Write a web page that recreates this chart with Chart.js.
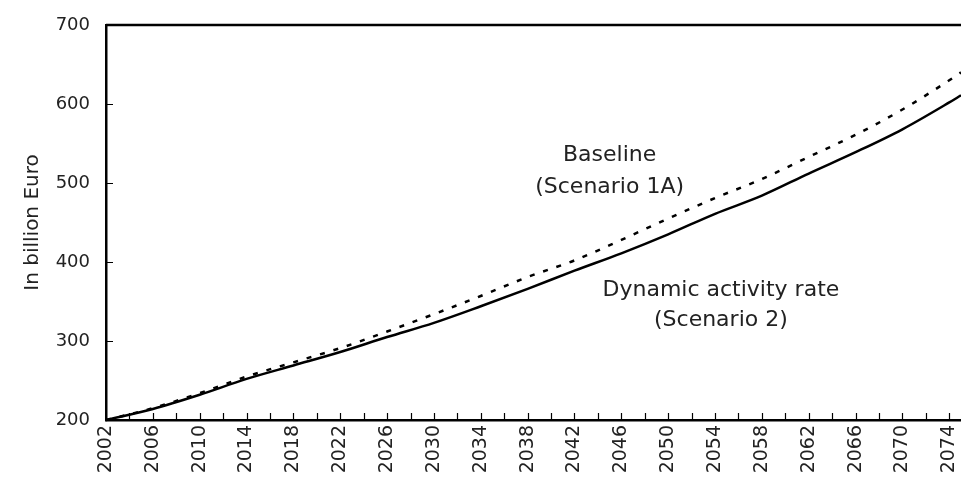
<!DOCTYPE html>
<html>
<head>
<meta charset="utf-8">
<script src="https://cdn.jsdelivr.net/npm/chart.js@4.4.1/dist/chart.umd.min.js"></script>
<style>
    html, body { margin: 0; padding: 0; background: #fff; }
    #wrap { width: 961px; height: 484px; }
</style>
</head>
<body>
<div id="wrap"><canvas id="gdpChart" width="961" height="484"></canvas></div>
<script>
// years (every 4 years plus the last one)
const years = [2002, 2006, 2010, 2014, 2018, 2022, 2026, 2030, 2034, 2038, 2042, 2046, 2050, 2054, 2058, 2062, 2066, 2070, 2074, 2075];
// Baseline (Scenario 1A), dotted
const baseline = [200, 215, 234, 255, 273, 291, 312, 334, 357, 381, 402, 428, 455, 481, 505, 533, 561, 593, 630, 640];
// Dynamic activity rate (Scenario 2), solid
const dynamicRate = [200, 214, 232, 252, 269, 286, 305, 323, 344, 366, 389, 411, 435, 461, 484, 512, 539, 568, 602, 611];
const yTicks = [200, 300, 400, 500, 600, 700];

const FONT = '"DejaVu Sans", sans-serif';
const TEXT = '#222';

function toPoints(vals) {
    return years.map((y, i) => ({ x: y, y: vals[i] }));
}

// text labels placed in data space
const labels = [
    { text: 'Baseline', x: 2045.0, y: 535 },
    { text: '(Scenario 1A)', x: 2045.0, y: 495 },
    { text: 'Dynamic activity rate', x: 2054.5, y: 364 },
    { text: '(Scenario 2)', x: 2054.5, y: 326 }
];

// inward tick marks, top frame line and curve labels
const framePlugin = {
    id: 'frame',
    afterDraw(chart) {
        const ctx = chart.ctx;
        const xs = chart.scales.x, ys = chart.scales.y;
        const area = chart.chartArea;
        ctx.save();
        ctx.strokeStyle = '#000';
        ctx.lineWidth = 1.2;
        ctx.beginPath();
        for (let v = 2004; v <= 2074; v += 2) {
            const px = Math.round(xs.getPixelForValue(v)) + 0.5;
            ctx.moveTo(px, area.bottom);
            ctx.lineTo(px, area.bottom - 7);
        }
        yTicks.slice(1, -1).forEach(v => {
            const py = Math.round(ys.getPixelForValue(v)) + 0.5;
            ctx.moveTo(area.left, py);
            ctx.lineTo(area.left + 7, py);
        });
        ctx.stroke();
        // top frame
        ctx.lineWidth = 2.5;
        ctx.beginPath();
        ctx.moveTo(area.left, area.top);
        ctx.lineTo(area.right, area.top);
        ctx.stroke();
        // curve labels
        ctx.fillStyle = TEXT;
        ctx.font = '22px ' + FONT;
        ctx.textAlign = 'center';
        ctx.textBaseline = 'middle';
        labels.forEach(l => {
            ctx.fillText(l.text, xs.getPixelForValue(l.x), ys.getPixelForValue(l.y));
        });
        ctx.restore();
    }
};

document.addEventListener('DOMContentLoaded', function() {
    const ctx = document.getElementById('gdpChart').getContext('2d');
    new Chart(ctx, {
        type: 'line',
        data: {
            datasets: [{
                label: 'Baseline (Scenario 1A)',
                data: toPoints(baseline),
                borderColor: '#000',
                borderWidth: 2.5,
                borderDash: [5, 9],
                pointRadius: 0,
                cubicInterpolationMode: 'monotone',
                fill: false
            }, {
                label: 'Dynamic activity rate (Scenario 2)',
                data: toPoints(dynamicRate),
                borderColor: '#000',
                borderWidth: 2.5,
                pointRadius: 0,
                cubicInterpolationMode: 'monotone',
                fill: false
            }]
        },
        options: {
            responsive: false,
            animation: false,
            clip: false,
            layout: { padding: { top: 25, right: 0, left: 0, bottom: 0 } },
            plugins: {
                legend: { display: false },
                tooltip: { enabled: false }
            },
            scales: {
                x: {
                    type: 'linear',
                    min: 2002,
                    max: 2075,
                    afterFit(scale) {
                        scale.height = 64;
                        scale.paddingLeft = 0;
                        scale.paddingRight = 0;
                    },
                    afterBuildTicks(scale) {
                        const t = [];
                        for (let v = 2002; v <= 2074; v += 4) t.push({ value: v });
                        scale.ticks = t;
                    },
                    grid: { display: false, drawTicks: false },
                    border: { display: true, color: '#000', width: 2.5 },
                    ticks: {
                        color: TEXT,
                        font: { family: FONT, size: 19 },
                        minRotation: 90,
                        maxRotation: 90,
                        padding: 5,
                        callback: v => String(v)
                    }
                },
                y: {
                    min: 200,
                    max: 700,
                    afterFit(scale) {
                        scale.width = 106;
                        scale.paddingTop = 0;
                        scale.paddingBottom = 0;
                    },
                    afterBuildTicks(scale) {
                        scale.ticks = yTicks.map(v => ({ value: v }));
                    },
                    grid: { display: false, drawTicks: false },
                    border: { display: true, color: '#000', width: 2.5 },
                    title: {
                        display: true,
                        text: 'In billion Euro',
                        color: TEXT,
                        font: { family: FONT, size: 20 },
                        padding: { top: 21, bottom: 0 }
                    },
                    ticks: {
                        color: TEXT,
                        font: { family: FONT, size: 18 },
                        padding: 16
                    }
                }
            }
        },
        plugins: [framePlugin]
    });
});
</script>
</body>
</html>
